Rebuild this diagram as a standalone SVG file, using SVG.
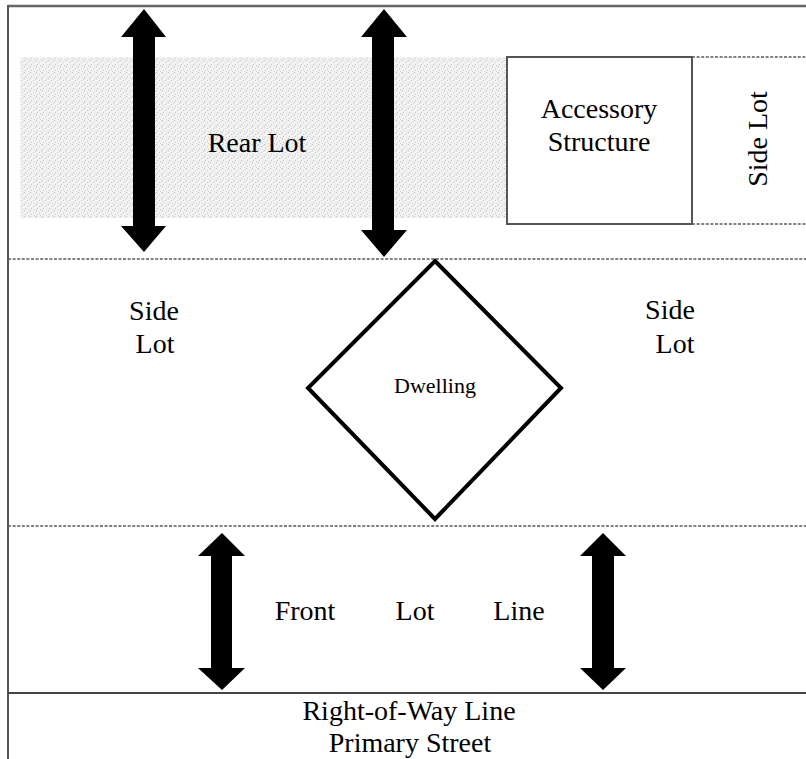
<svg xmlns="http://www.w3.org/2000/svg" width="806" height="759" viewBox="0 0 806 759">
<style>
.lbl{font-family:"Liberation Serif","Times New Roman",serif;font-size:28px;fill:#000;text-anchor:middle}
.sm{font-size:22px}
.dash{stroke:#5a5a5a;stroke-width:1.6;stroke-dasharray:3 1.6;fill:none}
.solid{stroke:#555;stroke-width:2;fill:none}
.arr{fill:#000}
</style>
<defs>
<pattern id="stip" width="6" height="6" patternUnits="userSpaceOnUse">
<rect width="6" height="6" fill="#f2f2f2"/>
<rect x="0" y="0" width="1" height="1" fill="#bcbcbc"/>
<rect x="3" y="2" width="1" height="1" fill="#c8c8c8"/>
<rect x="1" y="4" width="1" height="1" fill="#c2c2c2"/>
<rect x="4" y="5" width="1" height="1" fill="#d4d4d4"/>
<rect x="5" y="1" width="1" height="1" fill="#d8d8d8"/>
</pattern>
</defs>
<rect width="806" height="759" fill="#fff"/>
<g id="frame">
<line x1="8" y1="6" x2="806" y2="6" stroke="#666" stroke-width="2.5"/>
<line x1="8" y1="5" x2="8" y2="759" class="solid"/>
<line x1="8" y1="259" x2="806" y2="259" class="dash"/>
<line x1="8" y1="526" x2="806" y2="526" class="dash"/>
<line x1="8" y1="693" x2="806" y2="693" stroke="#444" stroke-width="2.2"/>
</g>
<g id="rear-lot">
<rect x="20" y="57" width="487" height="161" fill="url(#stip)"/>
<text class="lbl" x="257" y="152">Rear Lot</text>
</g>
<g id="accessory-structure">
<rect x="507" y="57" width="185" height="167" fill="#fff" stroke="#555" stroke-width="2"/>
<text class="lbl" x="599" y="118">Accessory</text>
<text class="lbl" x="599" y="151">Structure</text>
</g>
<g id="side-lot-rear">
<path d="M692 57H806M692 224H806" class="dash"/>
<text class="lbl" transform="translate(767 139) rotate(-90)" x="0" y="0">Side Lot</text>
</g>
<g id="side-lot-left">
<text class="lbl" x="154" y="320">Side</text>
<text class="lbl" x="155" y="353">Lot</text>
</g>
<g id="side-lot-right">
<text class="lbl" x="670" y="319">Side</text>
<text class="lbl" x="675" y="353">Lot</text>
</g>
<g id="dwelling">
<polygon points="435,261 561,388 435,519 308,388" fill="#fff" stroke="#000" stroke-width="4" stroke-linejoin="miter"/>
<text class="lbl sm" x="435" y="393">Dwelling</text>
</g>
<g id="front-lot-line">
<text class="lbl" x="305" y="620">Front</text>
<text class="lbl" x="415" y="620">Lot</text>
<text class="lbl" x="519" y="620">Line</text>
</g>
<g id="right-of-way">
<text class="lbl" x="409" y="720">Right-of-Way Line</text>
<text class="lbl" x="410" y="752">Primary Street</text>
</g>
<g id="connectors">
<polygon class="arr" points="144,9 166,37 155,37 155,226 166,226 144,252 121,226 133,226 133,37 121,37"/>
<polygon class="arr" points="384,9 407,37 394,37 394,230 407,230 384,257 361,230 372,230 372,37 361,37"/>
<polygon class="arr" points="222,533 245,556 232,556 232,668 245,668 222,690 198,668 211,668 211,556 198,556"/>
<polygon class="arr" points="603,533 626,556 614,556 614,668 626,668 603,690 580,668 592,668 592,556 580,556"/>
</g>
</svg>
